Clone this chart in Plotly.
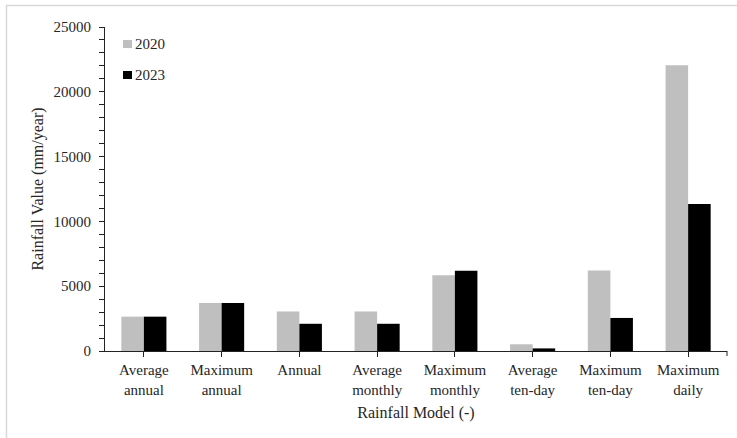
import plotly.graph_objects as go

categories = ["Average<br>annual", "Maximum<br>annual", "Annual", "Average<br>monthly",
              "Maximum<br>monthly", "Average<br>ten-day", "Maximum<br>ten-day", "Maximum<br>daily"]
series_names = ["2020", "2023"]
values_2020 = [2650, 3700, 3050, 3050, 5850, 520, 6220, 22050]
values_2023 = [2650, 3700, 2100, 2100, 6200, 200, 2550, 11350]
y_ticks = [0, 5000, 10000, 15000, 20000, 25000]
y_tick_labels = ["0", "5000", "10000", "15000", "20000", "25000"]
colors = ["#bfbfbf", "#000000"]

W, H = 737, 438
L, R, T, B = 105, 10, 27, 87
pw, ph = W - L - R, H - T - B

def px_x(px):
    return (px - L) / pw

def px_y(py):
    return (H - B - py) / ph

FONT = "Liberation Serif"
TXT = "#262626"

fig = go.Figure()
for name, vals, col in zip(series_names, [values_2020, values_2023], colors):
    fig.add_trace(go.Bar(name=name, x=categories, y=vals, marker_color=col,
                         marker_line_width=0, showlegend=False))

fig.update_layout(
    width=W, height=H,
    margin=dict(l=L, r=R, t=T, b=B, autoexpand=False),
    paper_bgcolor="white", plot_bgcolor="white",
    barmode="group", bargap=0.42, bargroupgap=0,
    font=dict(family=FONT, size=15, color=TXT),
    xaxis=dict(showline=True, linecolor="#222", linewidth=1, ticks="outside",
               ticklen=5, tickcolor="#222", showgrid=False, automargin=False,
               tickfont=dict(family=FONT, size=15, color=TXT),
               title=dict(text="Rainfall Model (-)", font=dict(family=FONT, size=16, color=TXT),
                          standoff=10)),
    yaxis=dict(range=[0, 25000], tickvals=y_ticks, ticktext=y_tick_labels,
               showline=True, linecolor="#222", linewidth=1, automargin=False,
               ticks="outside", ticklen=5, tickcolor="#222", showgrid=False, zeroline=False,
               ticklabelstandoff=5,
               tickfont=dict(family=FONT, size=15, color=TXT),
               minor=dict(dtick=1000, ticks="outside", ticklen=5, tickcolor="#222"),
               title=dict(text="Rainfall Value (mm/year)", font=dict(family=FONT, size=16, color=TXT),
                          standoff=5)),
)

# legend drawn as swatches + labels
leg_y = [44, 75]
for name, col, yy in zip(series_names, colors, leg_y):
    fig.add_shape(type="rect", xref="paper", yref="paper",
                  x0=px_x(123), x1=px_x(132), y0=px_y(yy + 4), y1=px_y(yy - 4),
                  line=dict(width=0), fillcolor=col)
    fig.add_annotation(xref="paper", yref="paper", x=px_x(133), y=px_y(yy),
                       xanchor="left", yanchor="middle", showarrow=False, text=name,
                       font=dict(family=FONT, size=15, color=TXT))

# outer light-gray frame (top and left edges visible)
fig.add_shape(type="line", xref="paper", yref="paper",
              x0=px_x(6), x1=px_x(737), y0=px_y(5.5), y1=px_y(5.5),
              line=dict(color="#d9d9d9", width=1.5), layer="below")
fig.add_shape(type="line", xref="paper", yref="paper",
              x0=px_x(6.5), x1=px_x(6.5), y0=px_y(5.5), y1=px_y(438),
              line=dict(color="#d9d9d9", width=1.5), layer="below")
# end tick at right of x axis
fig.add_shape(type="line", xref="paper", yref="paper",
              x0=1, x1=1, y0=0, y1=-5 / ph, line=dict(color="#222", width=1))

fig.write_html("out.html", config={"displayModeBar": False},
               post_script="document.body.style.margin='0';")
